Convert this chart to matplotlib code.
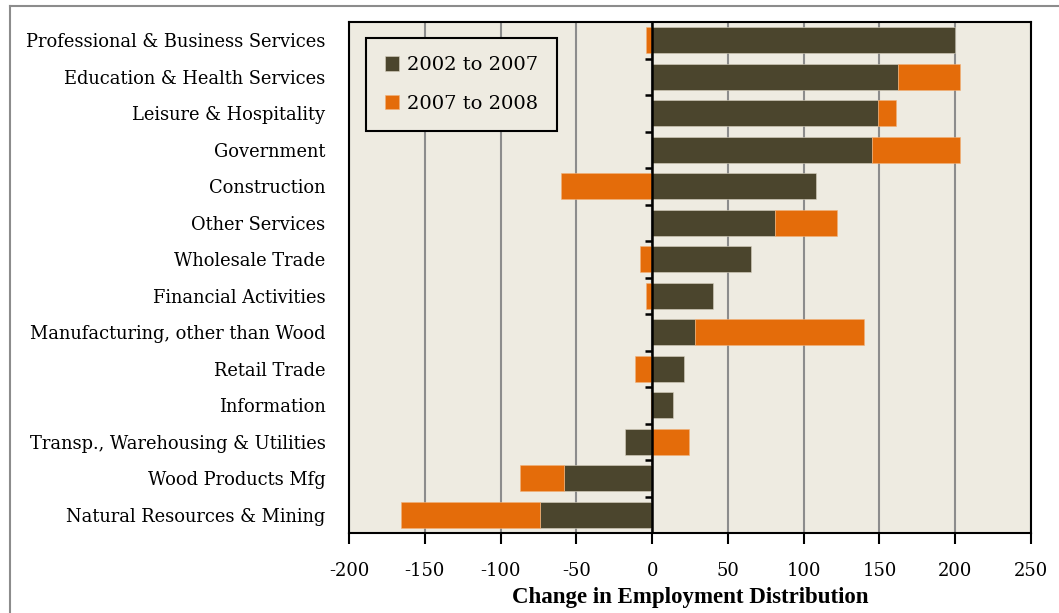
import matplotlib.pyplot as plt
import numpy as np
from matplotlib.lines import Line2D

# categories listed top to bottom
industries = ['Professional & Business Services', 'Education & Health Services',
              'Leisure & Hospitality', 'Government', 'Construction', 'Other Services',
              'Wholesale Trade', 'Financial Activities', 'Manufacturing, other than Wood',
              'Retail Trade', 'Information', 'Transp., Warehousing & Utilities',
              'Wood Products Mfg', 'Natural Resources & Mining']
chg_02_07 = [200, 162, 149, 145, 108, 81, 65, 40, 28, 21, 14, -18, -58, -74]
chg_07_08 = [-4, 41, 12, 58, -60, 41, -8, -4, 112, -11, -1, 24, -29, -92]
xticks = [-200, -150, -100, -50, 0, 50, 100, 150, 200, 250]

dark = '#4B452D'
orange = '#E46C0A'
bg = '#EEEBE1'

plt.rcParams['font.family'] = ['DejaVu Serif']

fig = plt.figure(figsize=(10.59, 6.13), dpi=100)
ax = fig.add_axes([0.3296, 0.1305, 0.644, 0.8336])
ax.set_facecolor(bg)

# outer chart frame (only top and left edges fall inside the picture)
fig.add_artist(Line2D([10/1059, 10/1059], [0, 1 - 6/613], color='#8c8c8c', lw=1.5,
                      transform=fig.transFigure))
fig.add_artist(Line2D([10/1059, 1], [1 - 6/613, 1 - 6/613], color='#8c8c8c', lw=1.5,
                      transform=fig.transFigure))

a = np.array(chg_02_07, dtype=float)
b = np.array(chg_07_08, dtype=float)
y = np.arange(len(industries))[::-1]
left_b = np.where(np.sign(a) == np.sign(b), a, 0)

ax.barh(y, a, height=0.7, color=dark, edgecolor='#d8d2c0', linewidth=0.4,
        label='2002 to 2007', zorder=3)
ax.barh(y, b, left=left_b, height=0.7, color=orange, edgecolor='#f2b27a',
        linewidth=0.4, label='2007 to 2008', zorder=3)

ax.set_xlim(-200, 250)
ax.set_ylim(-0.5, len(industries) - 0.5)
ax.set_xticks(xticks)
ax.set_xticklabels([str(t) for t in xticks], fontsize=13)
ax.xaxis.grid(True, color='#8c8c8c', lw=1.5, zorder=1)
ax.set_axisbelow(True)
ax.tick_params(axis='x', direction='out', length=8, width=1.5, pad=13)

ax.set_yticks(y)
ax.set_yticklabels(industries, fontsize=12.9)
ax.tick_params(axis='y', length=0, pad=17)

# category axis drawn at zero with ticks between categories
ax.axvline(0, color='black', lw=1.8, zorder=4)
ax.hlines(np.arange(len(industries) - 1) + 0.5, -4.5, 0, color='black', lw=1.8, zorder=4)

for s in ax.spines.values():
    s.set_color('black')
    s.set_linewidth(1.5)

ax.set_xlabel('Change in Employment Distribution', fontsize=16.5, fontweight='bold',
              family=['Liberation Serif'], labelpad=5)

leg = ax.legend(loc='upper left', bbox_to_anchor=(0.025, 0.969), borderaxespad=0,
                fontsize=14, frameon=True, fancybox=False, handlelength=0.75,
                handleheight=0.75, handletextpad=0.4, labelspacing=1.05,
                borderpad=0.95)
leg.get_frame().set_edgecolor('black')
leg.get_frame().set_linewidth(1.5)
leg.get_frame().set_facecolor(bg)
leg.get_frame().set_alpha(1)

fig.savefig('out.png', dpi=100)
